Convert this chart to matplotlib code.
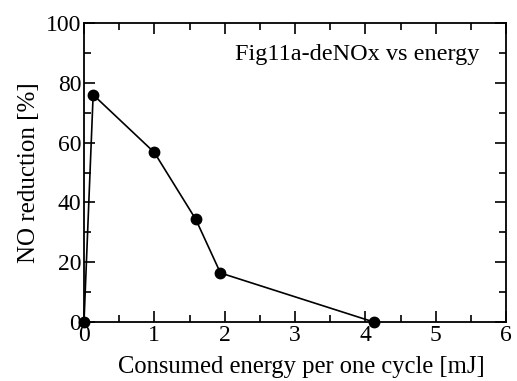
import matplotlib.pyplot as plt
from matplotlib.ticker import MultipleLocator

# Energy consumed per cycle [mJ] vs NO reduction [%]
energy = [0.0, 0.13, 1.0, 1.59, 1.94, 4.12]
no_reduction = [0.0, 76.0, 56.7, 34.3, 16.4, 0.0]

plt.rcParams['font.family'] = ['Liberation Serif', 'DejaVu Serif']

fig = plt.figure(figsize=(5.17, 3.81), dpi=100)
ax = fig.add_axes([84 / 517, 59 / 381, 422 / 517, 299 / 381])

ax.plot(energy, no_reduction, color='black', linewidth=1.2,
        marker='o', markersize=7.5, clip_on=False, zorder=3)

ax.set_xlim(0, 6)
ax.set_ylim(0, 100)
ax.xaxis.set_major_locator(MultipleLocator(1))
ax.xaxis.set_minor_locator(MultipleLocator(0.5))
ax.yaxis.set_major_locator(MultipleLocator(20))
ax.yaxis.set_minor_locator(MultipleLocator(10))
ax.tick_params(which='both', direction='in', top=True, right=True,
               labelsize=17, width=1.2)
ax.tick_params(which='major', length=8, pad=2)
ax.tick_params(which='minor', length=5)
for s in ax.spines.values():
    s.set_linewidth(1.3)

ax.set_xlabel('Consumed energy per one cycle [mJ]', fontsize=17.7, labelpad=7)
ax.xaxis.label.set_x(0.516)
ax.set_ylabel('NO reduction [%]', fontsize=18, labelpad=4)
ax.text(0.938, 0.893, 'Fig11a-deNOx vs energy', transform=ax.transAxes,
        ha='right', va='center', fontsize=17.5)

fig.savefig('out.png', dpi=100)
